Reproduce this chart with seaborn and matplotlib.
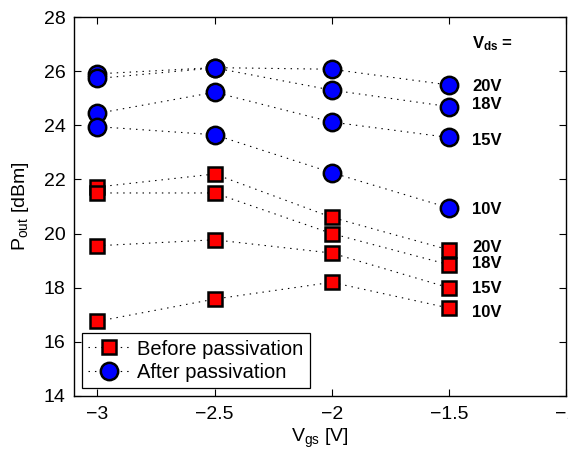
import matplotlib
matplotlib.use("Agg")
import matplotlib.pyplot as plt
import seaborn as sns
import numpy as np
import pandas as pd

vgs = [-3.0, -2.5, -2.0, -1.5]
vds_labels = ["20V", "18V", "15V", "10V"]

before = {
    "20V": [21.72, 22.2, 20.6, 19.4],
    "18V": [21.5, 21.5, 20.0, 18.85],
    "15V": [19.55, 19.77, 19.28, 18.0],
    "10V": [16.76, 17.58, 18.2, 17.25],
}
after = {
    "20V": [25.9, 26.13, 26.07, 25.49],
    "18V": [25.73, 26.12, 25.3, 24.69],
    "15V": [24.44, 25.22, 24.12, 23.55],
    "10V": [23.95, 23.65, 22.25, 20.95],
}
xticks = [-3, -2.5, -2, -1.5, -1]
xticklabels = ["\u22123", "\u22122.5", "\u22122", "\u22121.5", "\u22121"]
yticks = [14, 16, 18, 20, 22, 24, 26, 28]

sns.set_style("ticks")
plt.rcParams["font.family"] = ["Liberation Sans", "DejaVu Sans"]
plt.rcParams["mathtext.fontset"] = "custom"
plt.rcParams["mathtext.rm"] = "Liberation Sans"
plt.rcParams["mathtext.it"] = "Liberation Sans"
plt.rcParams["mathtext.bf"] = "Liberation Sans:bold"
for key in ("text.color", "axes.labelcolor", "xtick.color", "ytick.color", "axes.edgecolor"):
    plt.rcParams[key] = "black"

fig = plt.figure(figsize=(5.68, 4.54), dpi=100)
ax = fig.add_axes([74/568, 1-396/454, (566-74)/568, (396-17)/454])

rows = []
for grp, d in (("Before passivation", before), ("After passivation", after)):
    for k in vds_labels:
        for x, y in zip(vgs, d[k]):
            rows.append({"group": grp, "vds": k, "vgs": x, "pout": y})
df = pd.DataFrame(rows)

dotted = (0, (1.3, 4.5))
for grp, marker, color, ms in (("Before passivation", "s", "#ff0000", 10),
                               ("After passivation", "o", "#0000ff", 12.5)):
    for i, k in enumerate(vds_labels):
        sub = df[(df.group == grp) & (df.vds == k)]
        sns.lineplot(data=sub, x="vgs", y="pout", ax=ax, color="black",
                     linestyle=dotted, linewidth=0.8, marker=marker,
                     markerfacecolor=color, markeredgecolor="black",
                     markeredgewidth=1.8, markersize=ms,
                     label=grp if i == 0 else None, legend=False)

# labels
lab_x = -1.4
after_lab_y = {"20V": 25.45, "18V": 24.75, "15V": 23.45, "10V": 20.9}
before_lab_y = {"20V": 19.5, "18V": 18.9, "15V": 17.98, "10V": 17.08}
for k in vds_labels:
    ax.text(lab_x, after_lab_y[k], k, fontsize=12, fontweight="bold", va="center", ha="left")
    ax.text(lab_x, before_lab_y[k], k, fontsize=12, fontweight="bold", va="center", ha="left")
ax.text(lab_x, 27.0, r"V$_{\mathbf{ds}}$ =", fontsize=12, fontweight="bold", va="center", ha="left")

ax.set_xlim(-3.1, -1)
ax.set_ylim(14, 28)
ax.set_xticks(xticks)
ax.set_xticklabels(xticklabels)
ax.set_yticks(yticks)
ax.tick_params(direction="in", top=True, right=True, labelsize=14, length=5, width=0.8,
               color="black", labelcolor="black")
ax.tick_params(axis="x", pad=7)
ax.tick_params(axis="y", pad=6)
for s in ax.spines.values():
    s.set_visible(True)
    s.set_linewidth(1.0)
    s.set_color("black")
ax.set_xlabel(r"V$_{\mathrm{gs}}$ [V]", fontsize=14, labelpad=3, color="black")
ax.set_ylabel(r"P$_{\mathrm{out}}$ [dBm]", fontsize=14, labelpad=9, color="black")

h, l = ax.get_legend_handles_labels()
leg = ax.legend(h, l, loc="lower left", fontsize=14.5, frameon=True, fancybox=False,
                edgecolor="black", framealpha=1, numpoints=1, handlelength=2.1,
                borderpad=0.3, labelspacing=0.22, handletextpad=0.35,
                borderaxespad=0, bbox_to_anchor=(8/492, 8/379))
leg.get_frame().set_linewidth(0.9)
for t in leg.get_texts():
    t.set_color("black")

fig.savefig("out.png", dpi=100)
